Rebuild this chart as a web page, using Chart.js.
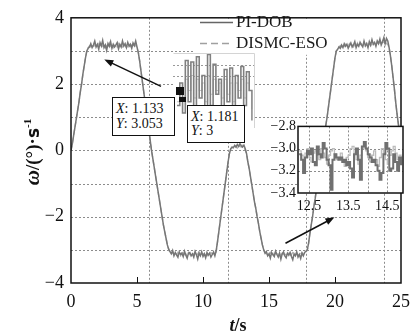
<!DOCTYPE html>
<html>
<head>
<meta charset="utf-8">
<script src="https://cdn.jsdelivr.net/npm/chart.js@4.4.1/dist/chart.umd.min.js"></script>
<style>
html, body { margin: 0; padding: 0; background: #fff; }
#wrap { position: relative; width: 418px; height: 336px; overflow: hidden; }
.box { position: absolute; }
.tip { position: absolute; background: #fff; border: 1px solid #111; box-sizing: border-box;
       font: 14px 'Liberation Serif', serif; color: #111; padding-left: 3px; white-space: nowrap; }
.mark { position: absolute; background: #111; }
</style>
</head>
<body>
<div id="wrap">
  <div class="box" style="left:0;top:0;width:418px;height:336px"><canvas id="main"></canvas></div>
  <div class="box" style="left:173px;top:53px;width:82px;height:75px"><canvas id="zoomTop"></canvas></div>
  <div class="box" style="left:262px;top:116px;width:146px;height:100px"><canvas id="zoomLow"></canvas></div>
  <div class="tip" style="left:112px;top:97px;width:63px;height:39px;padding-top:3px;line-height:15px"><i>X</i>: 1.133<br><i>Y</i>: 3.053</div>
  <div class="tip" style="left:187px;top:105px;width:58px;height:38px;padding-top:4px;line-height:14px"><i>X</i>: 1.181<br><i>Y</i>: 3</div>
  <div class="mark" style="left:176px;top:87px;width:8px;height:8px"></div>
  <div class="mark" style="left:179px;top:97px;width:7px;height:5px"></div>
</div>
<script>
const FONT = "'Liberation Serif', 'DejaVu Serif', serif";

// ---- main plot data (sampled every 0.1 s, each piece starts at segStart[i]) ----
const DT = 0.1;
const segStart = [0.0, 1.3, 5.1, 7.5, 11.1, 12.3, 13.3, 14.7, 18.0, 20.2, 24.1];

const riseA = [0, 0.2, 0.45, 0.7, 0.95, 1.2, 1.45, 1.75, 2.0, 2.3, 2.55, 2.8, 3.0];
const fallC = [2.95, 2.7, 2.4, 2.1, 1.8, 1.5, 1.2, 0.9, 0.6, 0.3, 0.0, -0.25, -0.5, -0.75, -1.0,
               -1.25, -1.5, -1.75, -2.0, -2.25, -2.45, -2.65, -2.85, -2.98];
const riseE = [-2.75, -2.45, -2.15, -1.85, -1.55, -1.25, -0.95, -0.65, -0.35, -0.1, 0.05, 0.1];
const fallG = [-0.1, -0.35, -0.55, -0.8, -1.05, -1.3, -1.55, -1.75, -2.0, -2.2, -2.45, -2.65, -2.85, -3.0];
const riseI = [-2.8, -2.5, -2.25, -2.0, -1.7, -1.45, -1.15, -0.9, -0.6, -0.35, -0.05, 0.2, 0.5, 0.75,
               1.0, 1.3, 1.6, 1.9, 2.2, 2.5, 2.8, 3.0];
const fallK = [3.1, 2.85, 2.55, 2.2, 1.85, 1.45, 1.1, 0.8, 0.5, 0.25];

const piTop1 = [3.08, 3.12, 3.22, 3.10, 3.18, 3.30, 3.12, 3.20, 3.05, 3.25,
                3.15, 3.32, 3.10, 3.18, 3.02, 3.22, 3.14, 3.28, 3.08, 3.20,
                3.12, 3.18, 3.25, 3.06, 3.20, 3.12, 3.30, 3.15, 3.22, 3.10,
                3.26, 3.14, 3.20, 3.08, 3.24, 3.16, 3.30, 3.12];
const piLow1 = [-3.05, -3.12, -3.02, -3.18, -3.08, -3.15, -3.22, -3.06, -3.14, -3.10,
                -3.20, -3.04, -3.16, -3.25, -3.10, -3.08, -3.18, -3.12, -3.22, -3.05,
                -3.15, -3.28, -3.10, -3.18, -3.06, -3.20, -3.12, -3.24, -3.08, -3.16,
                -3.10, -3.22, -3.14, -3.06, -3.18, -3.02];
const piBump = [0.08, 0.15, 0.1, 0.18, 0.12, 0.2, 0.14, 0.1, 0.16, 0.05];
const piLow2 = [-3.10, -3.05, -3.18, -3.12, -3.25, -3.08, -3.15, -3.20, -3.04, -3.14,
                -3.22, -3.10, -3.28, -3.12, -3.06, -3.18, -3.24, -3.10, -3.16, -3.08,
                -3.20, -3.30, -3.12, -3.18, -3.06, -3.22, -3.14, -3.26, -3.10, -3.18,
                -3.08, -3.04, -3.0];
const piTop2 = [3.05, 3.12, 3.08, 3.18, 3.10, 3.22, 3.14, 3.20, 3.08, 3.16,
                3.24, 3.12, 3.18, 3.28, 3.10, 3.20, 3.14, 3.26, 3.18, 3.12,
                3.30, 3.16, 3.22, 3.10, 3.28, 3.18, 3.34, 3.20, 3.26, 3.14,
                3.30, 3.22, 3.36, 3.18, 3.28, 3.40, 3.22, 3.38, 3.30];

const esoTop1 = [3.10, 3.15, 3.12, 3.20, 3.14, 3.18, 3.10, 3.16, 3.22, 3.12,
                 3.18, 3.14, 3.20, 3.10, 3.16, 3.12, 3.24, 3.14, 3.18, 3.10,
                 3.20, 3.16, 3.12, 3.22, 3.14, 3.18, 3.12, 3.20, 3.16, 3.10,
                 3.18, 3.22, 3.14, 3.18, 3.12, 3.20, 3.16, 3.10];
const esoLow1 = [-3.08, -3.12, -3.06, -3.14, -3.10, -3.16, -3.08, -3.12, -3.18, -3.10,
                 -3.06, -3.14, -3.12, -3.20, -3.08, -3.14, -3.10, -3.16, -3.12, -3.08,
                 -3.18, -3.12, -3.06, -3.14, -3.10, -3.16, -3.08, -3.12, -3.18, -3.10,
                 -3.14, -3.08, -3.12, -3.16, -3.10, -3.06];
const esoBump = [0.05, 0.1, 0.14, 0.08, 0.16, 0.12, 0.1, 0.15, 0.08, 0.02];
const esoLow2 = [-3.08, -3.12, -3.10, -3.16, -3.08, -3.14, -3.18, -3.10, -3.12, -3.06,
                 -3.16, -3.12, -3.20, -3.10, -3.14, -3.08, -3.16, -3.12, -3.10, -3.18,
                 -3.14, -3.08, -3.12, -3.16, -3.10, -3.14, -3.18, -3.12, -3.08, -3.14,
                 -3.10, -3.06, -3.02];
const esoTop2 = [3.08, 3.12, 3.16, 3.10, 3.18, 3.14, 3.20, 3.12, 3.16, 3.22,
                 3.14, 3.18, 3.12, 3.20, 3.16, 3.24, 3.14, 3.18, 3.22, 3.16,
                 3.20, 3.14, 3.24, 3.18, 3.22, 3.16, 3.26, 3.20, 3.24, 3.18,
                 3.28, 3.22, 3.26, 3.20, 3.30, 3.24, 3.28, 3.22, 3.20];

const piSegs  = [riseA, piTop1,  fallC, piLow1,  riseE, piBump,  fallG, piLow2,  riseI, piTop2,  fallK];
const esoSegs = [riseA, esoTop1, fallC, esoLow1, riseE, esoBump, fallG, esoLow2, riseI, esoTop2, fallK];

const xTicks = [0, 5, 10, 15, 20, 25];
const yTicks = [-4, -2, 0, 2, 4];
const yGridVals = [-3, -2, -1, 0, 1, 2, 3];
const xGridVals = [5.93, 11.87, 17.8, 23.73];

// ---- lower zoom window (t 12.25 .. 14.85, every 0.05 s) ----
const zT0 = 12.25, zDT = 0.05;
const zoomPi = [-3.05, -3.10, -3.22, -3.08, -3.02, -3.05, -3.00, -3.12, -3.15, -2.98,
                -3.05, -3.08, -2.95, -3.00, -3.10, -3.15, -3.37, -3.10, -3.05, -3.08,
                -3.10, -3.08, -3.12, -3.10, -3.15, -3.12, -3.18, -3.26, -3.05, -3.00,
                -3.10, -3.28, -2.98, -2.94, -3.00, -3.05, -3.08, -3.12, -3.10, -3.15,
                -3.20, -3.28, -3.22, -3.05, -2.95, -3.00, -3.20, -3.18, -3.05, -3.12,
                -3.20, -3.08, -3.15];
const zoomEso = [-3.02, -3.06, -3.10, -3.04, -3.00, -3.08, -3.12, -3.04, -3.02, -3.06,
                 -3.10, -3.00, -3.04, -3.08, -3.14, -3.06, -3.02, -3.00, -3.05, -3.10,
                 -3.08, -3.04, -3.12, -3.16, -3.08, -3.06, -3.00, -2.98, -3.04, -3.10,
                 -3.14, -3.06, -3.00, -2.96, -3.02, -3.08, -3.12, -3.06, -3.02, -3.10,
                 -3.16, -3.08, -3.00, -3.04, -3.10, -3.14, -3.06, -3.02, -2.98, -3.04,
                 -3.10, -3.06, -3.12];
const zoomXLabels = [12.5, 13.5, 14.5];
const zoomXGrid = [12.5, 13, 13.5, 14, 14.5];
const zoomYTicks = [-3.4, -3.2, -3.0, -2.8];

// ---- upper zoom window (detail of the plateau, arbitrary units) ----
const topDark = [3.0, 6.0, 2.0, 9.0, 3.5, 8.8, 2.5, 9.5, 4.0, 7.0, 2.0, 9.8, 3.0, 8.5,
                 4.5, 6.5, 2.5, 7.8, 3.5, 8.0, 2.0, 7.0, 4.0, 8.2, 3.0, 7.5, 5.0, 1.0];
const topLight = [3.5, 5.0, 4.0, 6.5, 5.0, 7.0, 4.0, 6.5, 5.0, 6.0, 3.5, 7.0, 4.5, 6.5,
                  5.0, 6.0, 4.0, 6.5, 4.5, 6.0, 3.5, 6.0, 5.0, 6.5, 4.0, 6.0, 5.0, 2.5];

// arrows in data coordinates [tailX, tailY, headX, headY]
const arrows = [[6.82, 1.93, 2.52, 2.74], [16.25, -2.8, 19.96, -2.02]];

function toPoints(starts, segs, dt) {
    const pts = [];
    segs.forEach((seg, k) => seg.forEach((v, i) => pts.push({ x: +(starts[k] + i * dt).toFixed(3), y: v })));
    return pts;
}
const minus = v => (v < 0 ? '\u2212' + Math.abs(v) : '' + v);

function drawArrow(ctx, x1, y1, x2, y2) {
    const ang = Math.atan2(y2 - y1, x2 - x1);
    const L = 9, W = 3.5;
    ctx.beginPath();
    ctx.moveTo(x1, y1);
    ctx.lineTo(x2 - Math.cos(ang) * L * 0.8, y2 - Math.sin(ang) * L * 0.8);
    ctx.stroke();
    ctx.beginPath();
    ctx.moveTo(x2, y2);
    ctx.lineTo(x2 - Math.cos(ang) * L - Math.sin(ang) * W, y2 - Math.sin(ang) * L + Math.cos(ang) * W);
    ctx.lineTo(x2 - Math.cos(ang) * L + Math.sin(ang) * W, y2 - Math.sin(ang) * L - Math.cos(ang) * W);
    ctx.closePath();
    ctx.fill();
}

function drawRich(ctx, parts, cx, cy) {
    let total = 0;
    parts.forEach(p => { ctx.font = p.font; p.w = ctx.measureText(p.t).width; total += p.w; });
    let x = cx - total / 2;
    ctx.textBaseline = 'alphabetic';
    ctx.textAlign = 'left';
    parts.forEach(p => { ctx.font = p.font; ctx.fillText(p.t, x, cy + (p.dy || 0)); x += p.w; });
}

const mainDecor = {
    id: 'mainDecor',
    beforeDatasetsDraw(chart) {
        const { ctx, chartArea: a, scales: { x, y } } = chart;
        ctx.save();
        ctx.strokeStyle = '#8c8c8c';
        ctx.lineWidth = 1;
        ctx.setLineDash([2, 2]);
        yGridVals.forEach(v => {
            const py = Math.round(y.getPixelForValue(v)) + 0.5;
            ctx.beginPath(); ctx.moveTo(a.left, py); ctx.lineTo(a.right, py); ctx.stroke();
        });
        xGridVals.forEach(v => {
            const px = Math.round(x.getPixelForValue(v)) + 0.5;
            ctx.beginPath(); ctx.moveTo(px, a.top); ctx.lineTo(px, a.bottom); ctx.stroke();
        });
        ctx.restore();
    },
    afterDatasetsDraw(chart) {
        const { ctx, chartArea: a, scales: { x, y } } = chart;
        ctx.save();
        // legend
        ctx.fillStyle = '#fff';
        ctx.fillRect(195, a.top + 1, 138, 36);
        ctx.lineWidth = 1.5;
        ctx.strokeStyle = '#666';
        ctx.beginPath(); ctx.moveTo(200, 22.5); ctx.lineTo(233, 22.5); ctx.stroke();
        ctx.strokeStyle = '#a0a0a0';
        ctx.setLineDash([7, 4]);
        ctx.beginPath(); ctx.moveTo(200, 43.5); ctx.lineTo(233, 43.5); ctx.stroke();
        ctx.setLineDash([]);
        ctx.fillStyle = '#1a1a1a';
        ctx.font = '17px ' + FONT;
        ctx.textBaseline = 'middle';
        ctx.fillText('PI-DOB', 236, 23);
        ctx.fillText('DISMC-ESO', 236, 44);

        // frame and inner ticks
        ctx.strokeStyle = '#111';
        ctx.lineWidth = 1.5;
        ctx.strokeRect(a.left, a.top, a.right - a.left, a.bottom - a.top);
        ctx.lineWidth = 1;
        xTicks.slice(1, -1).forEach(v => {
            const px = Math.round(x.getPixelForValue(v)) + 0.5;
            ctx.beginPath(); ctx.moveTo(px, a.bottom); ctx.lineTo(px, a.bottom - 6); ctx.stroke();
        });

        // arrows
        ctx.strokeStyle = '#111';
        ctx.fillStyle = '#111';
        ctx.lineWidth = 1.5;
        arrows.forEach(([tx, ty, hx, hy]) =>
            drawArrow(ctx, x.getPixelForValue(tx), y.getPixelForValue(ty), x.getPixelForValue(hx), y.getPixelForValue(hy)));

        // axis titles
        ctx.fillStyle = '#111';
        drawRich(ctx, [
            { t: 't', font: 'italic bold 18px ' + FONT },
            { t: '/s', font: 'bold 18px ' + FONT }
        ], (a.left + a.right) / 2 + 2, 331);
        ctx.translate(32, 152);
        ctx.rotate(-Math.PI / 2);
        drawRich(ctx, [
            { t: '\u03c9', font: 'italic bold 21px ' + FONT },
            { t: '/(\u00b0)\u00b7', font: 'bold 19px ' + FONT },
            { t: 's', font: 'bold 17px DejaVu Sans, sans-serif' },
            { t: '-1', font: 'bold 11px ' + FONT, dy: -8 }
        ], 0, 7);
        ctx.restore();
    }
};

new Chart(document.getElementById('main'), {
    type: 'line',
    data: {
        datasets: [
            {
                label: 'PI-DOB',
                data: toPoints(segStart, piSegs, DT),
                borderColor: '#767676',
                borderWidth: 1.5,
                pointRadius: 0,
                tension: 0
            },
            {
                label: 'DISMC-ESO',
                data: toPoints(segStart, esoSegs, DT),
                borderColor: '#b4b4b4',
                borderWidth: 1.4,
                borderDash: [5, 3],
                pointRadius: 0,
                tension: 0
            }
        ]
    },
    options: {
        responsive: true,
        maintainAspectRatio: false,
        animation: false,
        events: [],
        layout: { padding: { top: 16, right: 10, left: 0, bottom: 0 } },
        plugins: { legend: { display: false }, tooltip: { enabled: false } },
        scales: {
            x: {
                type: 'linear',
                min: 0,
                max: 25,
                afterFit: s => { s.height = 53; },
                afterBuildTicks: s => { s.ticks = xTicks.map(v => ({ value: v })); },
                grid: { display: false, drawTicks: false },
                border: { display: false },
                ticks: { color: '#111', padding: 8, maxRotation: 0, font: { family: FONT, size: 18 } }
            },
            y: {
                min: -4,
                max: 4,
                afterFit: s => { s.width = 71; },
                afterBuildTicks: s => { s.ticks = yTicks.map(v => ({ value: v })); },
                grid: { display: false, drawTicks: false },
                border: { display: false },
                ticks: { color: '#111', padding: 7, font: { family: FONT, size: 18 }, callback: v => minus(v) }
            }
        }
    },
    plugins: [mainDecor]
});

// ---- upper zoom window ----
const topDecor = {
    id: 'topDecor',
    beforeDraw(chart) {
        const { ctx, width, height, scales: { y } } = chart;
        ctx.save();
        ctx.fillStyle = '#fff';
        ctx.fillRect(0, 0, width, height);
        ctx.strokeStyle = '#999';
        ctx.setLineDash([2, 2]);
        ctx.lineWidth = 1;
        [8.4, 7.0].forEach(v => {
            const py = Math.round(y.getPixelForValue(v)) + 0.5;
            ctx.beginPath(); ctx.moveTo(0, py); ctx.lineTo(width, py); ctx.stroke();
        });
        ctx.restore();
    },
    afterDraw(chart) {
        const { ctx, width, height } = chart;
        ctx.save();
        ctx.strokeStyle = '#d4d4d4';
        ctx.lineWidth = 1;
        ctx.beginPath();
        ctx.moveTo(0.5, 0.5); ctx.lineTo(width - 0.5, 0.5); ctx.lineTo(width - 0.5, height);
        ctx.stroke();
        ctx.restore();
    }
};
new Chart(document.getElementById('zoomTop'), {
    type: 'line',
    data: {
        labels: topDark.map((_, i) => i),
        datasets: [
            { data: topDark, borderColor: '#808080', borderWidth: 1.6, pointRadius: 0, stepped: true },
            { data: topLight, borderColor: '#c4c4c4', borderWidth: 1.2, pointRadius: 0, stepped: true }
        ]
    },
    options: {
        responsive: true,
        maintainAspectRatio: false,
        animation: false,
        events: [],
        layout: { padding: { left: 4, right: 3, top: 0, bottom: 0 } },
        plugins: { legend: { display: false }, tooltip: { enabled: false } },
        scales: {
            x: { display: false },
            y: { display: false, min: 0, max: 10 }
        }
    },
    plugins: [topDecor]
});

// ---- lower zoom window ----
const lowDecor = {
    id: 'lowDecor',
    beforeDatasetsDraw(chart) {
        const { ctx, chartArea: a, scales: { x, y } } = chart;
        ctx.save();
        ctx.fillStyle = '#fff';
        ctx.fillRect(a.left, a.top, a.right - a.left, a.bottom - a.top);
        ctx.strokeStyle = '#8c8c8c';
        ctx.lineWidth = 1;
        ctx.setLineDash([2, 2]);
        zoomXGrid.forEach(v => {
            const px = Math.round(x.getPixelForValue(v)) + 0.5;
            ctx.beginPath(); ctx.moveTo(px, a.top); ctx.lineTo(px, a.bottom); ctx.stroke();
        });
        [-3.0, -3.2].forEach(v => {
            const py = Math.round(y.getPixelForValue(v)) + 0.5;
            ctx.beginPath(); ctx.moveTo(a.left, py); ctx.lineTo(a.right, py); ctx.stroke();
        });
        ctx.restore();
    },
    afterDatasetsDraw(chart) {
        const { ctx, chartArea: a } = chart;
        ctx.save();
        ctx.strokeStyle = '#111';
        ctx.lineWidth = 1.5;
        ctx.strokeRect(a.left, a.top, a.right - a.left, a.bottom - a.top);
        ctx.restore();
    }
};
new Chart(document.getElementById('zoomLow'), {
    type: 'line',
    data: {
        datasets: [
            { data: zoomPi.map((v, i) => ({ x: zT0 + i * zDT, y: v })), borderColor: '#707070', borderWidth: 2, pointRadius: 0, stepped: true },
            { data: zoomEso.map((v, i) => ({ x: zT0 + i * zDT, y: v })), borderColor: '#bcbcbc', borderWidth: 1.3, pointRadius: 0, stepped: true }
        ]
    },
    options: {
        responsive: true,
        maintainAspectRatio: false,
        animation: false,
        events: [],
        layout: { padding: { top: 10, right: 5, left: 0, bottom: 0 } },
        plugins: { legend: { display: false }, tooltip: { enabled: false } },
        scales: {
            x: {
                type: 'linear',
                min: 12.22,
                max: 14.9,
                afterFit: s => { s.height = 23; },
                afterBuildTicks: s => { s.ticks = zoomXLabels.map(v => ({ value: v })); },
                grid: { display: false, drawTicks: false },
                border: { display: false },
                ticks: { color: '#111', padding: 5, maxRotation: 0, font: { family: FONT, size: 14 }, callback: v => v.toFixed(1) }
            },
            y: {
                min: -3.4,
                max: -2.8,
                afterFit: s => { s.width = 36; },
                afterBuildTicks: s => { s.ticks = zoomYTicks.map(v => ({ value: v })); },
                grid: { display: false, drawTicks: false },
                border: { display: false },
                ticks: { color: '#111', padding: 2, font: { family: FONT, size: 14 }, callback: v => '\u2212' + Math.abs(v).toFixed(1) }
            }
        }
    },
    plugins: [lowDecor]
});
</script>
</body>
</html>
